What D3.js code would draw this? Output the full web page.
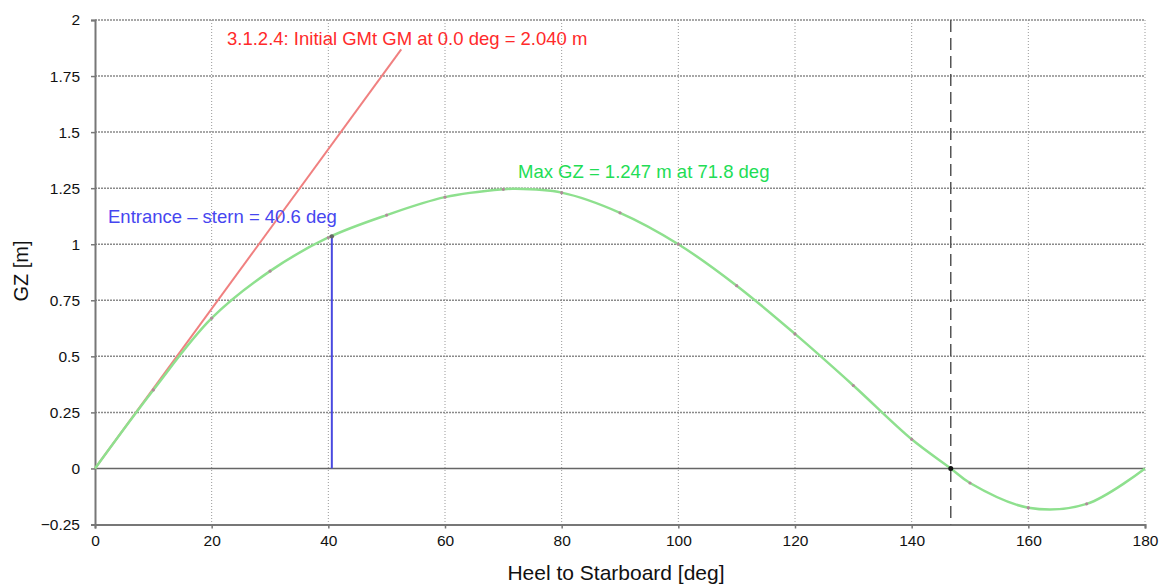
<!DOCTYPE html>
<html>
<head>
<meta charset="utf-8">
<script src="https://cdn.jsdelivr.net/npm/d3@7"></script>
<style>
  body { margin: 0; background: #fff; }
  svg text { font-family: "Liberation Sans", Arial, sans-serif; }
</style>
</head>
<body>
<div id="chart"></div>
<script>
// GZ curve
var heel = [0, 10, 20, 30, 40, 50, 60, 70, 71.8, 80, 90, 100, 110, 120, 130, 140, 146.7, 150, 160, 170, 180];
var gz   = [0, 0.35, 0.67, 0.88, 1.03, 1.13, 1.21, 1.245, 1.247, 1.23, 1.14, 1.0, 0.815, 0.60, 0.37, 0.13, 0, -0.065, -0.175, -0.158, 0];
var markHeel = [10, 20, 30, 40, 50, 60, 70, 80, 90, 100, 110, 120, 130, 140, 150, 160, 170];

var xTicks = [0, 20, 40, 60, 80, 100, 120, 140, 160, 180];
var yTicks = [-0.25, 0, 0.25, 0.5, 0.75, 1, 1.25, 1.5, 1.75, 2];
var yTickLabels = ["\u22120.25", "0", "0.25", "0.5", "0.75", "1", "1.25", "1.5", "1.75", "2"];

var gm = 2.04, gmEnd = 52.5;   // initial GM line
var entrance = 40.6;            // downflooding angle
var vanish = 146.7;             // angle of vanishing stability

var width = 1163, height = 585;
var x = d3.scaleLinear().domain([0, 180]).range([95, 1145]);
var y = d3.scaleLinear().domain([-0.25, 2]).range([524.5, 20]);

var svg = d3.select("#chart").append("svg")
    .attr("width", width)
    .attr("height", height);

// grid
svg.append("g").selectAll("line")
    .data(xTicks.slice(1))
  .enter().append("line")
    .attr("x1", d => x(d)).attr("x2", d => x(d))
    .attr("y1", y(2)).attr("y2", y(-0.25))
    .style("stroke", "#9a9a9a")
    .style("stroke-width", 1)
    .style("stroke-dasharray", "1,2");

svg.append("g").selectAll("line")
    .data(yTicks.filter(d => d != 0 && d != -0.25))
  .enter().append("line")
    .attr("x1", x(0)).attr("x2", x(180))
    .attr("y1", d => y(d)).attr("y2", d => y(d))
    .style("stroke", "#8a8a8a")
    .style("stroke-width", 1.5)
    .style("stroke-dasharray", "2,1");

// zero line
svg.append("line")
    .attr("x1", x(0)).attr("x2", x(180))
    .attr("y1", y(0)).attr("y2", y(0))
    .style("stroke", "#666")
    .style("stroke-width", 1.5);

// axes
var xAxis = d3.axisBottom(x).tickValues(xTicks).tickSize(4).tickPadding(6);
var yAxis = d3.axisLeft(y).tickValues(yTicks).tickSize(4).tickPadding(11)
    .tickFormat((d, i) => yTickLabels[i]);

var gx = svg.append("g").attr("transform", "translate(0," + y(-0.25) + ")").call(xAxis);
var gy = svg.append("g").attr("transform", "translate(" + x(0) + ",0)").call(yAxis);
[gx, gy].forEach(function(g) {
  g.select(".domain").style("stroke", "#777").style("stroke-width", 2);
  g.selectAll(".tick line").style("stroke", "#777").style("stroke-width", 1.5);
  g.selectAll(".tick text").style("font-size", "15.5px").style("fill", "#111");
});

// vanishing angle dashed line
svg.append("line")
    .attr("x1", x(vanish)).attr("x2", x(vanish))
    .attr("y1", y(2)).attr("y2", y(-0.25))
    .style("stroke", "#555")
    .style("stroke-width", 1.5)
    .style("stroke-dasharray", "12,6");

// initial GM line
svg.append("line")
    .attr("x1", x(0)).attr("y1", y(0))
    .attr("x2", x(gmEnd)).attr("y2", y(gm * gmEnd * Math.PI / 180))
    .style("stroke", "#f08080")
    .style("stroke-width", 2);

// GZ curve
var line = d3.line()
    .x((d, i) => x(heel[i]))
    .y(d => y(d))
    .curve(d3.curveCatmullRom.alpha(0.5));

svg.append("path")
    .datum(gz)
    .attr("d", line)
    .style("fill", "none")
    .style("stroke", "#8ee08e")
    .style("stroke-width", 2.5);

// small markers along curve
svg.append("g").selectAll("circle")
    .data(markHeel)
  .enter().append("circle")
    .attr("cx", d => x(d))
    .attr("cy", d => y(gz[heel.indexOf(d)]))
    .attr("r", 1.6)
    .style("fill", "#b08a9a");

// entrance angle line
var gzEntrance = 1.035;
svg.append("line")
    .attr("x1", x(entrance)).attr("x2", x(entrance))
    .attr("y1", y(0)).attr("y2", y(gzEntrance))
    .style("stroke", "#4a4ae0")
    .style("stroke-width", 2);
svg.append("circle")
    .attr("cx", x(entrance)).attr("cy", y(gzEntrance))
    .attr("r", 2.2).style("fill", "#666");

svg.append("circle")
    .attr("cx", x(vanish)).attr("cy", y(0))
    .attr("r", 2.5).style("fill", "#111");

// annotations
svg.append("text")
    .attr("x", 227).attr("y", 45)
    .style("font-size", "18.5px").style("fill", "#ff2a2a")
    .text("3.1.2.4: Initial GMt GM at 0.0 deg = 2.040 m");

svg.append("text")
    .attr("x", 108).attr("y", 223)
    .style("font-size", "18.5px").style("fill", "#4646f0")
    .text("Entrance \u2013 stern = 40.6 deg");

svg.append("text")
    .attr("x", 518).attr("y", 178)
    .style("font-size", "18.5px").style("fill", "#22dd55")
    .text("Max GZ = 1.247 m at 71.8 deg");

// axis titles
svg.append("text")
    .attr("x", 616).attr("y", 580)
    .attr("text-anchor", "middle")
    .style("font-size", "21px").style("fill", "#111")
    .text("Heel to Starboard [deg]");

svg.append("text")
    .attr("transform", "translate(28,271) rotate(-90)")
    .attr("text-anchor", "middle")
    .style("font-size", "20px").style("fill", "#111")
    .text("GZ [m]");
</script>
</body>
</html>
